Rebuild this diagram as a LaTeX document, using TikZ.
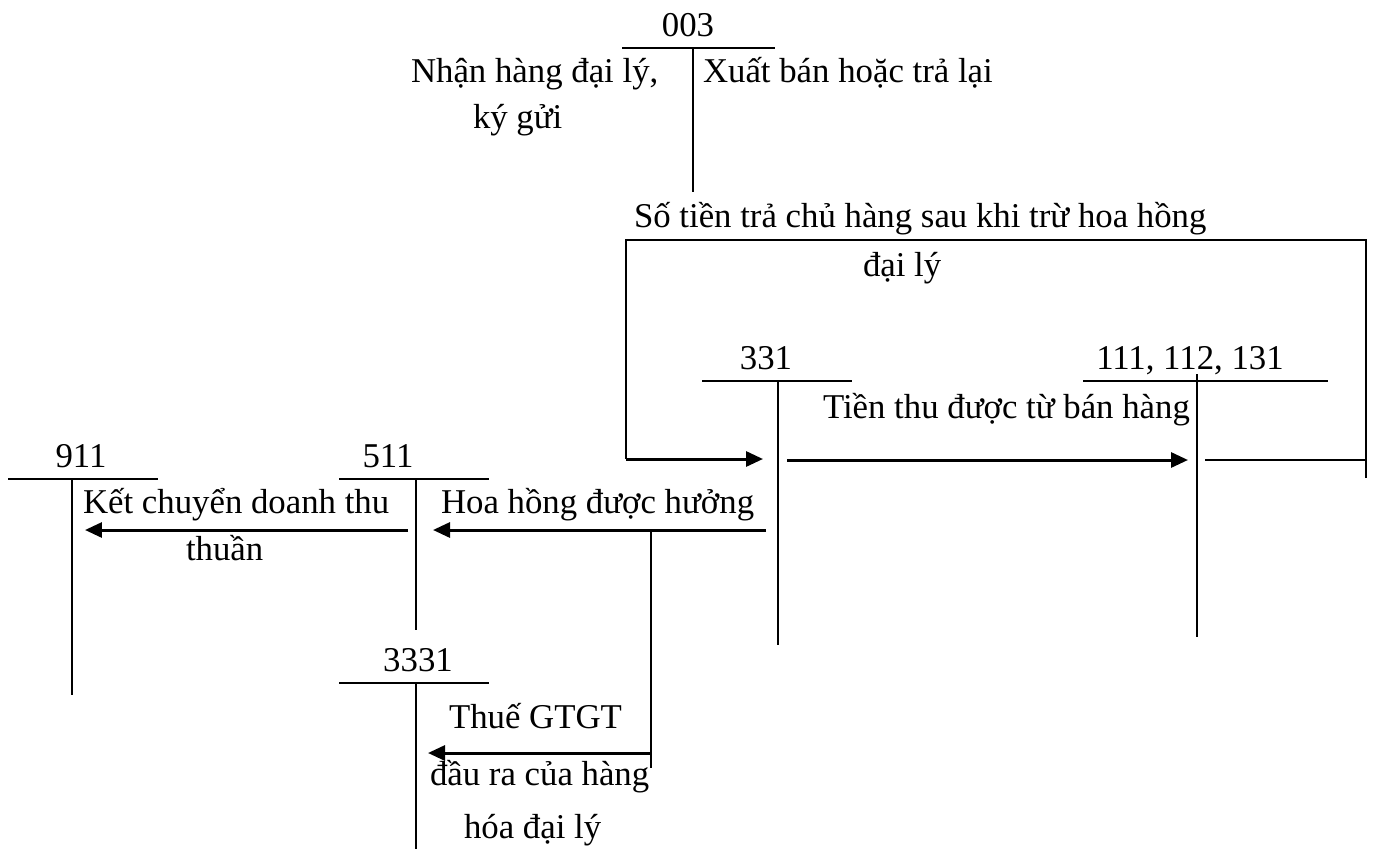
\documentclass[tikz,border=0pt]{standalone}
\usepackage{fontspec}
\setmainfont{Liberation Serif}
\usetikzlibrary{arrows.meta}

\begin{document}
\begin{tikzpicture}
  [x=0.02cm,y=-0.02cm,line width=1.15pt,
   every node/.style={inner sep=0pt,font=\fontsize{19.8}{23.5}\selectfont},
   txt/.style={anchor=base west},
   flow/.style={line width=1.7pt,-{Triangle[length=0.34cm,width=0.3cm]}}]
  \useasboundingbox (0,0) rectangle (1373,849);
  % T accounts: name/number/left/right/axis/top/axis start/bottom/label x
  \foreach \n/\lbl/\xl/\xr/\xa/\yt/\ys/\yb/\xt in {
      t003/003/622/775/693/48/48/192/688,
      t331/331/702/852/778/381/381/645/766,
      t111/{111, 112, 131}/1083/1328/1197/381/374/637/1190,
      t911/911/8/158/72/479/479/695/81,
      t511/511/339/489/416/479/479/630/388,
      t3331/3331/339/489/416/683/683/849/418}
  {
    \node[anchor=base] (\n) at (\xt,\yt-12) {\lbl};
    \coordinate (\n-l) at (\xl,\yt);
    \coordinate (\n-r) at (\xr,\yt);
    \coordinate (\n-top) at (\xa,\ys);
    \coordinate (\n-bot) at (\xa,\yb);
    \draw (\n-l) -- (\n-r);
    \draw (\n-top) -- (\n-bot);
  }

  % 003 entries
  \node[txt] (nhan) at (410,82) {Nhận hàng đại lý,};
  \node[txt] (kygui) at (472,128) {ký gửi};
  \node[txt] (xuat) at (702,82) {Xuất bán hoặc trả lại};

  % payment to the owner, around the top
  \node[txt] (sotien) at (633,227) {Số tiền trả chủ hàng sau khi trừ hoa hồng};
  \node[txt] (daily) at (862,276) {đại lý};
  \coordinate (pay-a) at (1205,460);
  \coordinate (pay-b) at (1366,478);
  \coordinate (pay-c) at (1366,240);
  \coordinate (pay-d) at (626,240);
  \coordinate (pay-e) at (626,459);
  \coordinate (pay-f) at (763,459);
  \draw (pay-a) -- (pay-a -| pay-b);
  \draw (pay-b) -- (pay-c) -- (pay-d) -- (pay-e);
  \draw[flow] (pay-e) -- (pay-f);

  % cash from sales
  \node[txt] (tienthu) at (822,418) {Tiền thu được từ bán hàng};
  \coordinate (cash-s) at (787,460);
  \coordinate (cash-e) at (1188,460);
  \draw[flow] (cash-s) -- (cash-e);

  % commission and closing
  \node[txt] (hoahong) at (440,513) {Hoa hồng được hưởng};
  \node[txt] (ketchuyen) at (82,513) {Kết chuyển doanh thu};
  \node[txt] (thuan) at (185,560) {thuần};
  \coordinate (com-s) at (766,530);
  \coordinate (com-e) at (433,530);
  \coordinate (kc-s) at (408,530);
  \coordinate (kc-e) at (85,530);
  \draw[flow] (com-s) -- (com-e);
  \draw[flow] (kc-s) -- (kc-e);

  % output VAT
  \node[txt] (thue) at (448,728) {Thuế GTGT};
  \node[txt] (daura) at (429,785) {đầu ra của hàng};
  \node[txt] (hoa) at (463,838) {hóa đại lý};
  \coordinate (br-top) at (651,530);
  \coordinate (br-bot) at (651,768);
  \coordinate (vat-s) at (651,753);
  \coordinate (vat-e) at (428,753);
  \draw (br-top) -- (br-bot);
  \draw[flow] (vat-s) -- (vat-e);
\end{tikzpicture}
\end{document}
